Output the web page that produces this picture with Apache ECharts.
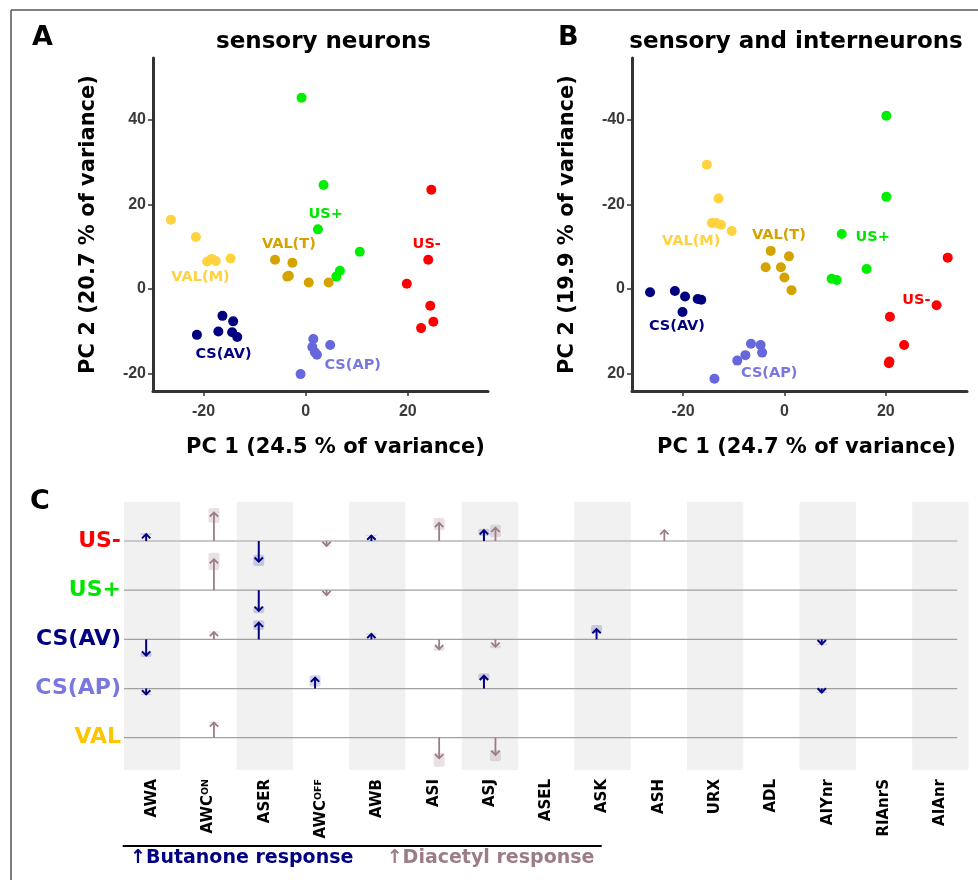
<!DOCTYPE html>
<html><head><meta charset="utf-8">
<script src="https://cdn.jsdelivr.net/npm/echarts@6/dist/echarts.min.js"></script>
<style>html,body{margin:0;padding:0;background:#fff}#c{width:978px;height:880px}</style>
</head><body><div id="c"></div>
<script>
// ---------- Panel A: sensory neurons (PC1, PC2) ----------
const A_USminus = [[24.6,23.5],[24.0,6.9],[19.8,1.2],[24.4,-4.0],[25.0,-7.8],[22.6,-9.3]];
const A_USplus  = [[-0.8,45.3],[3.5,24.6],[2.4,14.1],[10.6,8.8],[6.7,4.3],[6.0,2.9]];
const A_VALM    = [[-26.4,16.4],[-21.5,12.3],[-18.4,7.1],[-19.3,6.5],[-17.6,6.6],[-14.7,7.2]];
const A_VALT    = [[-6.0,6.9],[-2.6,6.2],[-3.3,3.1],[-3.6,2.9],[0.6,1.5],[4.5,1.5]];
const A_CSAV    = [[-16.3,-6.4],[-14.2,-7.7],[-21.3,-10.9],[-17.1,-10.1],[-14.4,-10.3],[-13.4,-11.4]];
const A_CSAP    = [[1.5,-11.9],[1.3,-13.8],[2.2,-15.6],[1.8,-15.0],[4.8,-13.3],[-1.0,-20.2]];
const A_labelNames = ['US+','VAL(T)','VAL(M)','US-','CS(AV)','CS(AP)'];
const A_labelPos   = [[3.9,17.8],[-3.3,10.6],[-20.6,2.8],[23.7,10.6],[-16.1,-15.4],[9.2,-18.0]];

// ---------- Panel B: sensory and interneurons ----------
const B_USminus = [[32.2,-7.4],[30.0,3.9],[20.8,6.6],[23.6,13.3],[20.6,17.6],[20.7,17.2]];
const B_USplus  = [[20.1,-41.0],[20.1,-21.8],[11.3,-13.0],[16.2,-4.7],[9.3,-2.4],[10.3,-2.1]];
const B_VALM    = [[-15.3,-29.4],[-13.0,-21.4],[-14.3,-15.6],[-13.5,-15.6],[-12.5,-15.2],[-10.4,-13.7]];
const B_VALT    = [[-2.7,-9.0],[0.9,-7.7],[-3.7,-5.1],[-0.7,-5.1],[0.0,-2.7],[1.4,0.3]];
const B_CSAV    = [[-26.5,0.8],[-21.6,0.5],[-19.6,1.8],[-17.1,2.4],[-16.4,2.6],[-20.1,5.5]];
const B_CSAP    = [[-6.6,13.0],[-4.7,13.3],[-4.4,15.1],[-7.7,15.7],[-9.3,17.0],[-13.8,21.3]];
const B_labelNames = ['VAL(M)','VAL(T)','US+','US-','CS(AV)','CS(AP)'];
const B_labelPos   = [[-18.4,-11.4],[-1.1,-12.6],[17.4,-12.2],[26.0,2.8],[-21.2,8.9],[-3.0,20.0]];

const xTicks = [-20,0,20];
const A_yTicks = [-20,0,20,40];
const B_yTicks = [-40,-20,0,20];

// ---------- Panel C ----------
const neurons = ['AWA','AWC^ON','ASER','AWC^OFF','AWB','ASI','ASJ','ASEL','ASK','ASH','URX','ADL','AIYnr','RIAnrS','AIAnr'];
const rowNames = ['VAL','CS(AP)','CS(AV)','US+','US-'];
// [neuronIndex, rowIndex, change, ciLow, ciHigh]
const butanone = [
  [0,4,0.14,0.12,0.16],[2,4,-0.42,-0.51,-0.28],[4,4,0.11,0.10,0.12],[6,4,0.22,0.10,0.25],
  [2,3,-0.42,-0.47,-0.33],
  [0,2,-0.33,-0.36,-0.25],[2,2,0.34,0.19,0.39],[4,2,0.11,0.10,0.12],[8,2,0.21,0.13,0.29],[12,2,-0.10,-0.11,-0.09],
  [0,1,-0.12,-0.13,-0.11],[3,1,0.22,0.04,0.27],[6,1,0.26,0.17,0.31],[12,1,-0.08,-0.09,-0.07]
];
const diacetyl = [
  [1,4,0.58,0.37,0.67],[3,4,-0.10,-0.11,-0.09],[5,4,0.37,0.22,0.47],[6,4,0.27,0.08,0.33],[9,4,0.22,0.21,0.23],
  [1,3,0.63,0.41,0.76],[3,3,-0.10,-0.11,-0.09],
  [1,2,0.15,0.14,0.16],[5,2,-0.20,-0.23,-0.15],[6,2,-0.15,-0.18,-0.12],
  [1,0,0.31,0.30,0.32],[5,0,-0.42,-0.59,-0.31],[6,0,-0.35,-0.48,-0.25]
];

const COL = {'US-':'#ff0000','US+':'#00ee00','VAL(M)':'#ffd23f','VAL(T)':'#d4a300','CS(AV)':'#000080','CS(AP)':'#6666dd'};
const LBLCOL = {'US-':'#ff0000','US+':'#00e600','VAL(M)':'#ffd23f','VAL(T)':'#d4a300','CS(AV)':'#000080','CS(AP)':'#7878e0'};
const ROWCOL = ['#ffc600','#7878e0','#000080','#00e600','#ff0000'];
const NAVY = '#000080', MAUVE = '#9c7c88';
const FF = 'DejaVu Sans';

const chart = echarts.init(document.getElementById('c'));

function scatter(name, data, gi) {
  return {type:'scatter', name, xAxisIndex:gi, yAxisIndex:gi, data, symbol:'circle', symbolSize:10,
    itemStyle:{color:COL[name], opacity:1}, z:3, silent:true};
}
function labelSeries(names, pos, gi) {
  return {type:'custom', coordinateSystem:'cartesian2d', xAxisIndex:gi, yAxisIndex:gi, data:pos, z:4, silent:true,
    renderItem(params, api) {
      const p = api.coord([api.value(0), api.value(1)]);
      const n = names[params.dataIndex];
      return {type:'text', x:p[0], y:p[1], style:{text:n, fill:LBLCOL[n], fontSize:14.5, fontWeight:'bold',
        fontFamily:FF, align:'center', verticalAlign:'middle'}};
    }};
}
function valAxisX(gi, min, max, name, padLeft) {
  return {type:'value', gridIndex:gi, min, max, splitLine:{show:false},
    axisLine:{show:true, onZero:false, lineStyle:{color:'#333', width:3}},
    axisTick:{show:true, customValues:xTicks, length:5, lineStyle:{color:'#333', width:1.5}},
    axisLabel:{customValues:xTicks, fontSize:16, fontWeight:'bold', fontFamily:'Liberation Sans', color:'#3a3a3a', margin:13},
    name, nameLocation:'middle', nameGap:46,
    nameTextStyle:{fontSize:21, fontWeight:'bold', fontFamily:FF, color:'#000', padding:[0,0,0,padLeft]}};
}
function valAxisY(gi, min, max, ticks, inverse, name) {
  return {type:'value', gridIndex:gi, min, max, inverse, splitLine:{show:false},
    axisLine:{show:true, onZero:false, lineStyle:{color:'#333', width:3}},
    axisTick:{show:true, customValues:ticks, length:5, lineStyle:{color:'#333', width:1.5}},
    axisLabel:{customValues:ticks, fontSize:16, fontWeight:'bold', fontFamily:'Liberation Sans', color:'#3a3a3a', margin:7},
    name, nameLocation:'middle', nameGap:54,
    nameTextStyle:{fontSize:21, fontWeight:'bold', fontFamily:FF, color:'#000'}};
}

function arrowSeries(data, color, ciColor, offset, width) {
  return {type:'custom', coordinateSystem:'cartesian2d', xAxisIndex:2, yAxisIndex:2, data, z:5, silent:true,
    renderItem(params, api) {
      const i = api.value(0), r = api.value(1), d = api.value(2), lo = api.value(3), hi = api.value(4);
      const p0 = api.coord([i, r]), p1 = api.coord([i, r + d]);
      const pl = api.coord([i, r + lo]), ph = api.coord([i, r + hi]);
      const x = p0[0] + offset;
      const dir = d > 0 ? -1 : 1;
      const hw = 4.2, hh = 4.2;
      const ciTop = Math.min(pl[1], ph[1]), ciBot = Math.max(pl[1], ph[1]);
      return {type:'group', children:[
        {type:'rect', shape:{x:x-5.5, y:ciTop, width:11, height:ciBot-ciTop, r:2}, style:{fill:ciColor}},
        {type:'line', shape:{x1:x, y1:p0[1], x2:x, y2:p1[1]}, style:{stroke:color, lineWidth:width}},
        {type:'polyline', shape:{points:[[x-hw, p1[1]-dir*hh],[x, p1[1]],[x+hw, p1[1]-dir*hh]]},
          style:{stroke:color, lineWidth:width, fill:null}}
      ]};
    }};
}

const option = {
  animation:false,
  backgroundColor:'#fff',
  grid:[
    {left:153, top:58, width:335, height:333, outerBoundsMode:'none', containLabel:false},
    {left:632, top:58, width:335, height:333, outerBoundsMode:'none', containLabel:false},
    {left:124, top:501.7, width:844.5, height:268.3, outerBoundsMode:'none', containLabel:false}
  ],
  xAxis:[
    valAxisX(0, -29.9, 35.7, 'PC 1 (24.5 % of variance)', 30),
    valAxisX(1, -30.06, 36.0, 'PC 1 (24.7 % of variance)', 14),
    {type:'category', gridIndex:2, data:neurons, boundaryGap:true,
      axisLine:{show:false}, axisTick:{show:false}, splitLine:{show:false},
      axisLabel:{interval:0, rotate:90, margin:9, color:'#000',
        formatter(v){
          if (v.indexOf('^') >= 0) { const s = v.split('^'); return '{b|' + s[0] + '}{s|' + s[1] + '}'; }
          return '{b|' + v + '}';
        },
        rich:{b:{fontSize:15, fontWeight:'bold', fontFamily:FF, color:'#000'},
              s:{fontSize:9.5, fontWeight:'bold', fontFamily:FF, color:'#000', verticalAlign:'top', padding:[0,0,6,0]}}}}
  ],
  yAxis:[
    valAxisY(0, -24.2, 54.7, A_yTicks, false, 'PC 2 (20.7 % of variance)'),
    valAxisY(1, -54.7, 24.2, B_yTicks, true, 'PC 2 (19.9 % of variance)'),
    {type:'value', gridIndex:2, min:-0.657, max:4.8, splitLine:{show:false}, axisLine:{show:false}, axisTick:{show:false},
      axisLabel:{customValues:[0,1,2,3,4], margin:3,
        formatter(v){ return '{r' + v + '|' + rowNames[v] + '}'; },
        rich:{
          r0:{color:ROWCOL[0], fontSize:22, fontWeight:'bold', fontFamily:FF},
          r1:{color:ROWCOL[1], fontSize:22, fontWeight:'bold', fontFamily:FF},
          r2:{color:ROWCOL[2], fontSize:22, fontWeight:'bold', fontFamily:FF},
          r3:{color:ROWCOL[3], fontSize:22, fontWeight:'bold', fontFamily:FF},
          r4:{color:ROWCOL[4], fontSize:22, fontWeight:'bold', fontFamily:FF}
        }}}
  ],
  series:[
    scatter('US-', A_USminus, 0), scatter('US+', A_USplus, 0), scatter('VAL(M)', A_VALM, 0),
    scatter('VAL(T)', A_VALT, 0), scatter('CS(AV)', A_CSAV, 0), scatter('CS(AP)', A_CSAP, 0),
    labelSeries(A_labelNames, A_labelPos, 0),
    scatter('US-', B_USminus, 1), scatter('US+', B_USplus, 1), scatter('VAL(M)', B_VALM, 1),
    scatter('VAL(T)', B_VALT, 1), scatter('CS(AV)', B_CSAV, 1), scatter('CS(AP)', B_CSAP, 1),
    labelSeries(B_labelNames, B_labelPos, 1),
    // shaded columns
    {type:'custom', coordinateSystem:'cartesian2d', xAxisIndex:2, yAxisIndex:2, z:1, silent:true,
      data:neurons.map((n, i) => [i, 0]).filter(d => d[0] % 2 === 0),
      renderItem(params, api) {
        const p = api.coord([api.value(0), 0]);
        const bw = api.size([1, 0])[0];
        const cs = params.coordSys;
        return {type:'rect', shape:{x:p[0]-bw/2, y:cs.y, width:bw, height:cs.height}, style:{fill:'#f1f1f1'}};
      }},
    // row base lines
    {type:'custom', coordinateSystem:'cartesian2d', xAxisIndex:2, yAxisIndex:2, z:2, silent:true,
      data:rowNames.map((n, r) => [0, r]),
      renderItem(params, api) {
        const r = api.value(1);
        const p = api.coord([0, r]);
        const pe = api.coord([neurons.length - 1, r]);
        const bw = api.size([1, 0])[0];
        const cs = params.coordSys;
        const top = r === 4;
        return {type:'line', shape:{x1:cs.x, y1:p[1], x2:pe[0] + 0.3*bw, y2:p[1]},
          style:{stroke: top ? '#c8c8c8' : '#a0a0a0', lineWidth: top ? 2 : 1.2}};
      }},
    arrowSeries(butanone, NAVY, 'rgba(40,40,150,0.2)', -6, 2),
    arrowSeries(diacetyl, MAUVE, 'rgba(150,115,130,0.22)', 5.5, 1.8)
  ],
  graphic:[
    {type:'line', shape:{x1:11, y1:10, x2:978, y2:10}, style:{stroke:'#555', lineWidth:1.5}},
    {type:'line', shape:{x1:11, y1:10, x2:11, y2:880}, style:{stroke:'#555', lineWidth:1.5}},
    {type:'text', x:32, y:38, style:{text:'A', fontSize:27, fontWeight:'bold', fontFamily:FF, fill:'#000', verticalAlign:'middle'}},
    {type:'text', x:558, y:38, style:{text:'B', fontSize:27, fontWeight:'bold', fontFamily:FF, fill:'#000', verticalAlign:'middle'}},
    {type:'text', x:30, y:502, style:{text:'C', fontSize:27, fontWeight:'bold', fontFamily:FF, fill:'#000', verticalAlign:'middle'}},
    {type:'text', x:323.5, y:42, style:{text:'sensory neurons', fontSize:23, fontWeight:'bold', fontFamily:FF, fill:'#000', align:'center', verticalAlign:'middle'}},
    {type:'text', x:796, y:42, style:{text:'sensory and interneurons', fontSize:23, fontWeight:'bold', fontFamily:FF, fill:'#000', align:'center', verticalAlign:'middle'}},
    {type:'line', shape:{x1:122.7, y1:846, x2:601.7, y2:846}, style:{stroke:'#000', lineWidth:2}},
    {type:'text', x:130, y:858.5, style:{text:'\u2191Butanone response', fontSize:19, fontWeight:'bold', fontFamily:FF, fill:NAVY, verticalAlign:'middle'}},
    {type:'text', x:386.7, y:858.5, style:{text:'\u2191Diacetyl response', fontSize:19, fontWeight:'bold', fontFamily:FF, fill:MAUVE, verticalAlign:'middle'}}
  ]
};
chart.setOption(option);
</script>
</body></html>
